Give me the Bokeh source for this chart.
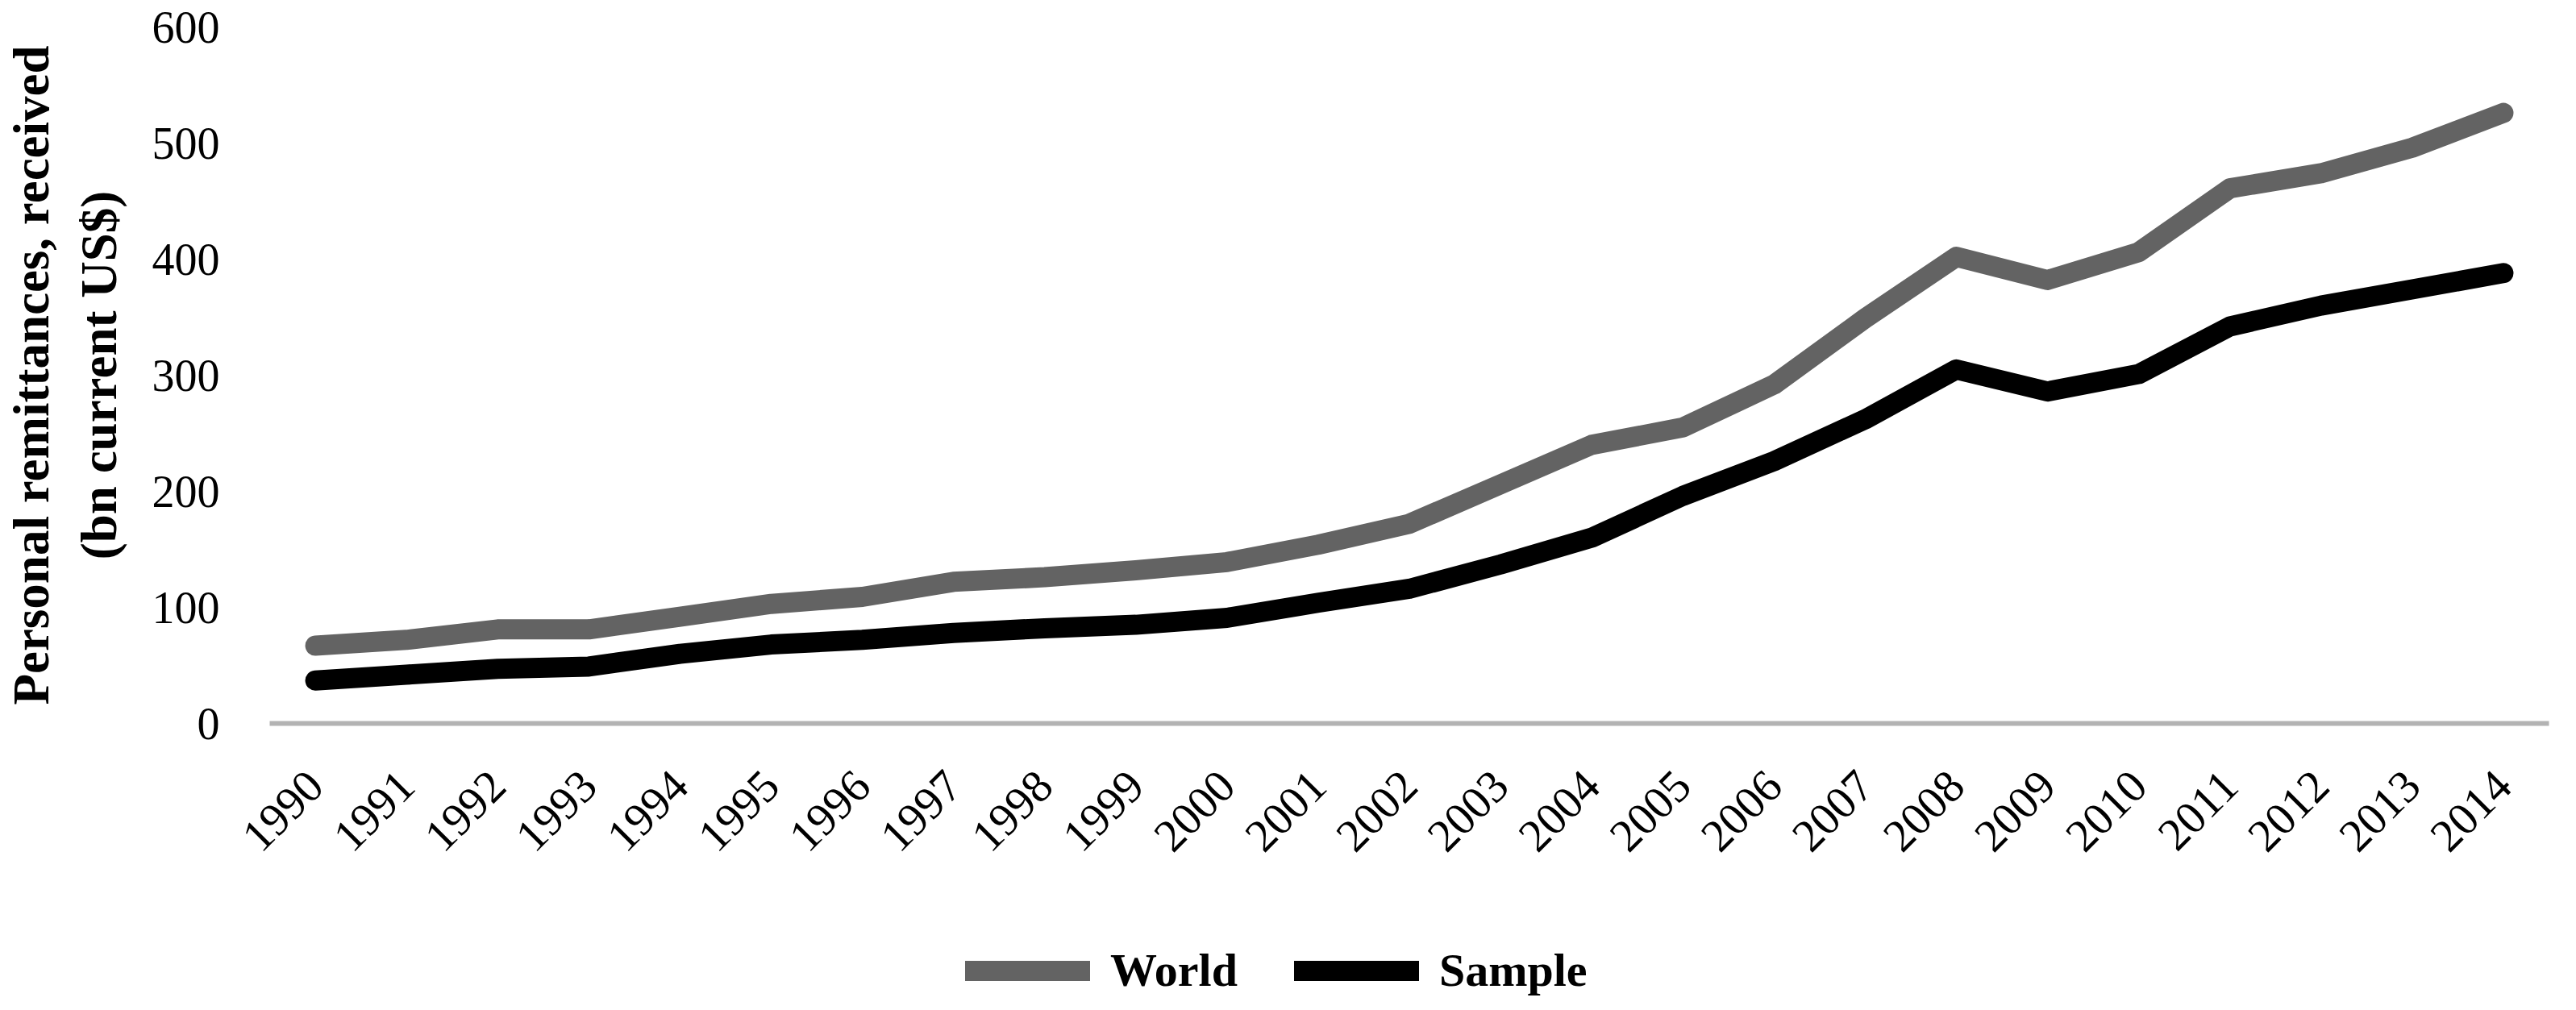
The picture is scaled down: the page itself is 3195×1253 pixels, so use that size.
import math
from bokeh.plotting import figure
from bokeh.layouts import column
from bokeh.models import (ColumnDataSource, FactorRange, Range1d, FixedTicker,
                          Legend, LegendItem)
from bokeh.embed import file_html
from bokeh.resources import INLINE

years = [str(y) for y in range(1990, 2015)]
world = [67, 72, 81, 81, 92, 103, 109, 122, 126, 132, 139, 154, 172, 206,
         240, 255, 292, 349, 402, 382, 406, 461, 474, 496, 526]
sample = [37, 42, 47, 49, 60, 68, 72, 78, 82, 85, 91, 104, 116, 137,
          160, 196, 226, 262, 305, 286, 301, 342, 360, 374, 388]
y_ticks = [0, 100, 200, 300, 400, 500, 600]
series_names = ["World", "Sample"]
series_colors = ["#636363", "#000000"]

FONT = "Liberation Serif"
LW = 25

src = ColumnDataSource(data=dict(year=years, world=world, sample=sample))

p = figure(x_range=FactorRange(factors=years), y_range=Range1d(0, 600),
           width=3180, height=1140, output_backend="svg", toolbar_location=None,
           min_border_left=318, min_border_right=19, min_border_top=33,
           min_border_bottom=243)

p.background_fill_color = "white"
p.border_fill_color = "white"
p.outline_line_color = None
p.xgrid.visible = False
p.ygrid.visible = False

r1 = p.line(x="year", y="world", source=src, line_color=series_colors[0],
            line_width=LW, line_cap="round", line_join="round")
r2 = p.line(x="year", y="sample", source=src, line_color=series_colors[1],
            line_width=LW, line_cap="round", line_join="round")

# y axis
p.yaxis.ticker = FixedTicker(ticks=y_ticks)
p.yaxis.axis_line_color = None
p.yaxis.major_tick_line_color = None
p.yaxis.minor_tick_line_color = None
p.yaxis.major_label_text_font = FONT
p.yaxis.major_label_text_font_size = "56px"
p.yaxis.major_label_text_color = "black"
p.yaxis.major_label_standoff = 56
p.yaxis.axis_label = "Personal remittances, received\n(bn current US$)"
p.yaxis.axis_label_text_font = FONT
p.yaxis.axis_label_text_font_size = "63px"
p.yaxis.axis_label_text_font_style = "bold"
p.yaxis.axis_label_text_color = "black"
p.yaxis.axis_label_standoff = 28

# x axis
p.xaxis.axis_line_color = "#B3B3B3"
p.xaxis.axis_line_width = 6
p.xaxis.major_tick_line_color = None
p.xaxis.minor_tick_line_color = None
p.xaxis.major_label_orientation = math.pi / 4
p.xaxis.major_label_text_font = FONT
p.xaxis.major_label_text_font_size = "57px"
p.xaxis.major_label_text_color = "black"
p.xaxis.major_label_standoff = 62

# legend strip (separate figure below the chart, holding only the legend)
leg = figure(width=3180, height=97, output_backend="svg", toolbar_location=None,
             min_border=0, x_range=Range1d(0, 1), y_range=Range1d(0, 1))
leg.axis.visible = False
leg.grid.visible = False
leg.outline_line_color = None
leg.background_fill_color = "white"
leg.border_fill_color = "white"
nan = float("nan")
l1 = leg.line(x=[nan], y=[nan], line_color=series_colors[0], line_width=LW,
              line_cap="round", line_join="round")
l2 = leg.line(x=[nan], y=[nan], line_color=series_colors[1], line_width=LW,
              line_cap="round", line_join="round")

legend = Legend(items=[LegendItem(label=series_names[0], renderers=[l1]),
                       LegendItem(label=series_names[1], renderers=[l2])],
                orientation="horizontal", location=(863, 0),
                border_line_color=None, background_fill_alpha=0,
                padding=0, margin=0, spacing=70, glyph_width=155,
                glyph_height=40, label_standoff=25, label_height=40,
                label_text_font=FONT, label_text_font_size="58px",
                label_text_font_style="bold", label_text_color="black")
leg.add_layout(legend)

layout = column(p, leg, spacing=0)
open("out.html", "w").write(file_html(layout, INLINE))
